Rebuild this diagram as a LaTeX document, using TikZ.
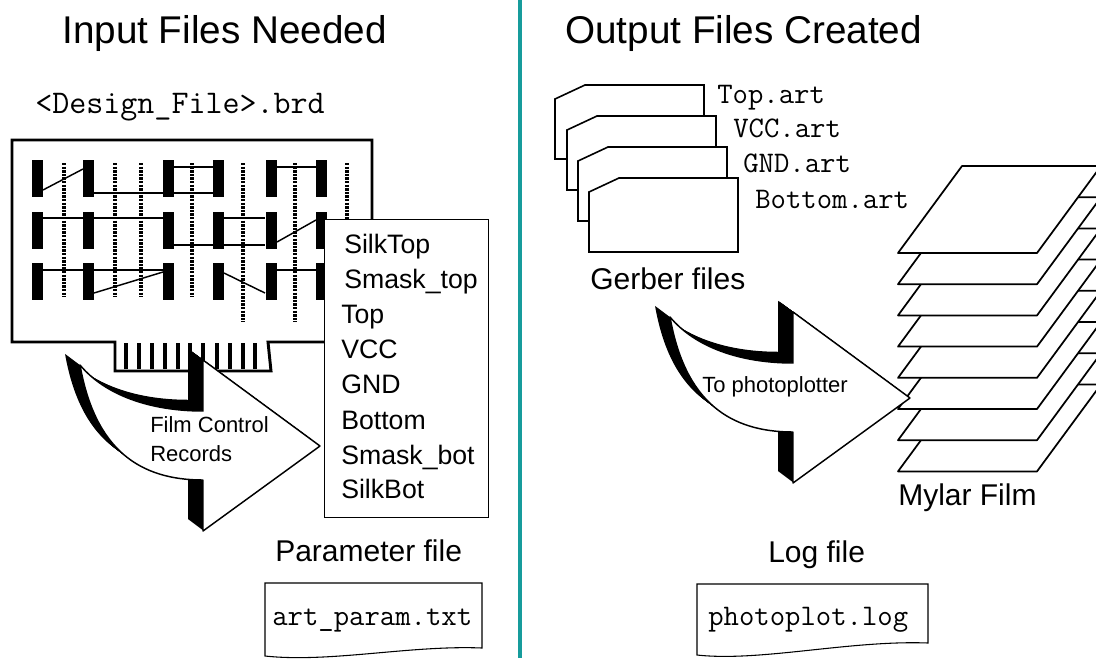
\documentclass[tikz,border=0pt]{standalone}
\usepackage{fontspec}
\setmainfont{Liberation Sans}
\usetikzlibrary{positioning}

\definecolor{divteal}{RGB}{22,156,156}

% outline of the bent block arrow, tail point at the origin
\newcommand{\bentpath}{(0,0) .. controls (25,30) and (70,46) .. (123,46)
  -- (123,-5) -- (240,81) -- (123,166) -- (123,115)
  .. controls (60,115) and (15,85) .. (0,0) -- cycle}

\tikzset{
  lbl/.style={inner sep=0pt,anchor=base west,font=\fontsize{22.5}{27}\selectfont},
  head/.style={inner sep=0pt,anchor=base west,font=\fontsize{29}{34}\selectfont},
  mono/.style={inner sep=0pt,anchor=base west,font=\ttfamily\fontsize{22.4}{27}\selectfont},
  layer/.style={inner sep=0pt,anchor=base west,font=\fontsize{20}{24}\selectfont},
  small/.style={inner sep=0pt,font=\fontsize{16.5}{21.75}\selectfont},
  board/.style={line width=2.2pt},
  trace/.style={line width=1.1pt},
  via/.style={line width=2.6pt,dash pattern=on 1.8pt off 0.9pt},
  finger/.style={line width=2.4pt},
  sheet/.style={fill=white,draw=black,line width=1.2pt},
  film/.style={fill=white,draw=black,line width=1.3pt,line join=round},
  doc/.style={fill=white,draw=black,line width=0.8pt},
  bentarrow/.pic={
    \foreach \k in {1,...,15}
      \fill[black,shift={(-\k,{-0.75*\k})}] \bentpath;
    \filldraw[fill=white,draw=black,line width=1.1pt,line join=round] \bentpath;
  }
}

\begin{document}
\begin{tikzpicture}[x=0.75pt,y=-0.75pt]
\useasboundingbox (0,0) rectangle (1096,658);
\clip (0,0) rectangle (1096,658);

\draw[divteal,line width=2.6pt] (520,0) -- (520,658);

\node (IN) [head] at (62,43) {Input Files Needed};
\node (OUT) [head] at (565,43) {Output Files Created};

%% left half: board file
\node (BRD) [mono,font=\ttfamily\fontsize{24.8}{29}\selectfont] at (35,113) {<Design\_File>.brd};

\draw[board] (12,140) -- (372,140) -- (372,342) -- (268,342) -- (271,371)
  -- (115,371) -- (115,342) -- (12,342) -- cycle;
\foreach \x in {126,139,152,165,178,190,203,217,230,243,255}
  \draw[finger] (\x,343) -- (\x,369);

% pads
\foreach \x in {37,88.5,168,218.5,271,321.5}
  \foreach \y in {160,212,263}
    \fill (\x-5.5,\y) rectangle ++(11,37);

% vias
\foreach \x in {64,115,141,192}
  \draw[via] (\x,163) -- (\x,297);
\foreach \x in {243,295}
  \draw[via] (\x,163) -- (\x,322);
\draw[via] (347,163) -- (347,240);

% traces
\draw[trace] (43,190) -- (83,169);
\draw[trace] (94,193) -- (163,193);
\draw[trace] (173,167) -- (213,167) (173,193) -- (213,193);
\draw[trace] (277,167) -- (316,167);
\draw[trace] (43,218) -- (163,218);
\draw[trace] (173,245) -- (265,245);
\draw[trace] (224,218) -- (265,218);
\draw[trace] (277,242) -- (316,220);
\draw[trace] (43,270) -- (163,270);
\draw[trace] (94,293) -- (163,272);
\draw[trace] (224,273) -- (265,293);
\draw[trace] (277,270) -- (316,270);

\pic at (80,365) {bentarrow};
\node (FCR) [small,anchor=north west,align=left] at (150,416) {Film Control\\Records};

% film control records
\node (LIST) [draw,fill=white,line width=0.8pt,inner sep=0pt,anchor=north west,
  minimum width=123pt,minimum height=223.5pt] at (324,219) {};
\foreach \lyr/\x/\y [count=\i] in {SilkTop/344/253, Smask\_top/344/288,
    Top/341/323, VCC/341/358, GND/341/393, Bottom/341/429,
    Smask\_bot/341/464, SilkBot/341/498}
  \node (L\i) [layer] at (\x,\y) {\lyr};

\node (PAR) [lbl] at (275,561) {Parameter file};
\draw[doc] (265,583) -- (482,583) -- (482,648)
  .. controls (410,645) and (330,663) .. (265,656) -- cycle;
\node (PTXT) [mono] at (272,625) {art\_param.txt};

%% right half: outputs
\foreach \l/\t in {555/85,567/116,578/147,589/178}
  \filldraw[sheet] (\l,\t+14) -- (\l+30,\t) -- (\l+149,\t) -- (\l+149,\t+74)
    -- (\l,\t+74) -- cycle;
\node (TOP) [mono] at (717,103) {Top.art};
\node (VCC) [mono] at (733,137) {VCC.art};
\node (GND) [mono] at (743,172) {GND.art};
\node (BOT) [mono] at (755,208) {Bottom.art};
\node (GRB) [lbl] at (590,289) {Gerber files};

% stack of film sheets, lowest first
\foreach \k in {7,...,0}
  \filldraw[film] (898,{253+31.2*\k}) -- ++(139,0) -- ++(64,-87) -- ++(-139,0) -- cycle;
\node (MYL) [lbl] at (898,505) {Mylar Film};

\pic at (670,317) {bentarrow};
\node (PP) [small,anchor=base west] at (702,392) {To photoplotter};

\node (LOG) [lbl] at (768,562) {Log file};
\draw[doc] (697,584) -- (928,584) -- (928,643)
  .. controls (850,640) and (760,662) .. (697,655) -- cycle;
\node (LTXT) [mono] at (708,625) {photoplot.log};
\end{tikzpicture}
\end{document}
